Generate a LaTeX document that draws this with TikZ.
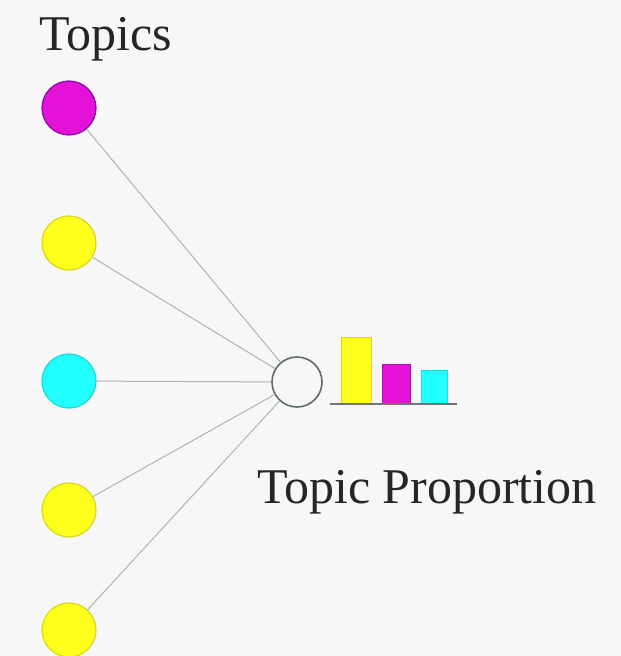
\documentclass[tikz,border=0pt]{standalone}
\usepackage{fontspec}
\setmainfont{Liberation Serif}
\begin{document}
\begin{tikzpicture}[x=1pt,y=-1pt,
  topic/.style={circle,minimum size=54pt,inner sep=0pt,line width=1.2pt},
  link/.style={draw=black!25!green!10!gray!60,line width=1pt},
  bar/.style={line width=0.8pt},
  label/.style={font=\fontsize{50}{54}\selectfont,text=black!85,inner sep=0pt,anchor=base west}]
  \definecolor{tmag}{HTML}{E412D6}
  \definecolor{tyel}{HTML}{FFFF1E}
  \definecolor{tcyn}{HTML}{22FFFF}
  \definecolor{hub}{HTML}{5E6E62}
  \fill[white!97!black] (0,0) rectangle (621,656);
  \useasboundingbox (0,0) rectangle (621,656);

  % topic nodes
  \node[topic,fill=tmag,draw=tmag!75!blue!80!black] (t1) at (69,108) {};
  \node[topic,fill=tyel,draw=tyel!85!black] (t2) at (69,243) {};
  \node[topic,fill=tcyn,draw=tcyn!85!black] (t3) at (69,381) {};
  \node[topic,fill=tyel,draw=tyel!85!black] (t4) at (69,510) {};
  \node[topic,fill=tyel,draw=tyel!85!black] (t5) at (69,630) {};

  % document node
  \node[circle,minimum size=50pt,inner sep=0pt,draw=hub,line width=1.6pt] (doc) at (297,382) {};

  \foreach \t in {t1,t2,t3,t4,t5}
    \draw[link] (\t) -- (doc);

  % proportion bars
  \fill[tyel,draw=tyel!85!black,bar] (341,337) rectangle (371,403);
  \fill[tmag,draw=tmag!80!black,bar] (382,364) rectangle (410,403);
  \fill[tcyn,draw=tcyn!85!black,bar] (421,370) rectangle (447,403);
  \coordinate (b0) at (330,404);
  \coordinate (b1) at (457,404);
  \draw[black!55,line width=1.2pt] (b0) -- (b1);

  \node[label] (topics) at (39,50) {Topics};
  \node[label] (prop) at (257,503) {Topic Proportion};
\end{tikzpicture}
\end{document}
